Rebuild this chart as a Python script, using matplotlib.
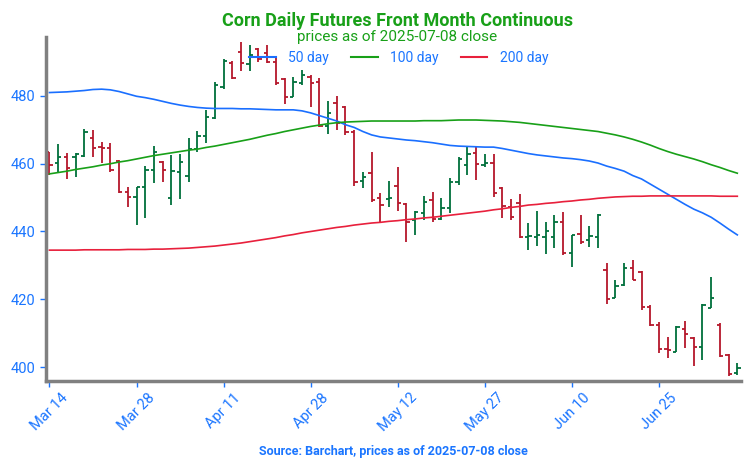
import pandas as pd
import matplotlib
matplotlib.use("Agg")
import matplotlib.pyplot as plt
from matplotlib.lines import Line2D

plt.rcParams['font.family'] = ['Roboto', 'DejaVu Sans']

# trading days shown on the chart
holidays = ['2025-04-18', '2025-05-26', '2025-06-19', '2025-07-04']
bday = pd.offsets.CustomBusinessDay(holidays=holidays)
dates = pd.date_range('2025-03-14', '2025-07-09', freq=bday)

opens = [463.4, 460.2, 462.0, 462.0, 462.3, 467.5, 465.0, 464.6, 460.9, 451.8,
         450.1, 453.2, 458.0, 460.5, 450.0, 457.6, 456.4, 464.4, 468.2, 473.5,
         482.5, 489.6, 493.0, 489.4, 493.9, 492.7, 490.1, 484.9, 479.8, 483.8,
         485.5, 484.1, 471.1, 477.9, 476.7, 469.5, 454.8, 457.3, 450.0, 449.5,
         453.4, 448.1, 443.4, 445.4, 449.3, 443.6, 446.8, 454.7, 459.6, 463.1,
         459.6, 460.1, 452.8, 447.3, 448.5, 438.5, 438.5, 438.5, 438.3, 442.9,
         433.6, 439.3, 437.5, 438.5, 428.6, 420.5, 424.2, 429.1, 428.1, 417.8,
         412.4, 405.2, 404.5, 411.1, 408.5, 405.8, 417.5, 412.4, 403.5, 398.1]
highs = [463.6, 465.8, 463.1, 463.1, 470.3, 470.0, 466.3, 466.0, 461.1, 453.0,
         453.2, 459.3, 465.1, 460.8, 462.6, 462.9, 467.7, 469.8, 475.9, 484.1,
         490.9, 490.3, 496.0, 495.1, 494.1, 495.1, 491.8, 485.3, 485.5, 487.7,
         486.1, 485.3, 478.6, 480.0, 477.1, 469.9, 457.6, 463.6, 451.5, 455.0,
         458.9, 448.3, 446.1, 450.5, 451.8, 449.8, 455.7, 462.1, 464.9, 464.9,
         462.9, 462.9, 453.2, 449.7, 451.2, 442.6, 446.1, 442.9, 444.9, 445.8,
         439.0, 444.9, 441.6, 445.2, 430.6, 425.7, 430.8, 431.6, 428.4, 418.3,
         413.4, 408.8, 412.1, 413.7, 408.8, 418.6, 426.5, 413.1, 403.8, 401.1]
lows = [456.7, 457.2, 455.4, 456.2, 462.1, 462.1, 460.1, 457.7, 451.3, 447.3,
        441.9, 443.9, 454.3, 454.7, 447.8, 449.6, 454.7, 463.5, 466.0, 473.3,
        482.1, 484.9, 487.3, 487.4, 489.9, 489.7, 483.2, 477.6, 479.6, 483.3,
        476.7, 470.8, 468.9, 469.9, 468.6, 453.5, 452.8, 448.8, 442.6, 447.1,
        446.1, 437.0, 439.0, 443.4, 442.9, 443.4, 445.4, 453.7, 456.7, 455.2,
        459.0, 450.3, 443.9, 443.5, 438.1, 434.5, 435.7, 433.4, 435.0, 433.1,
        429.4, 436.3, 435.3, 435.0, 418.7, 420.3, 423.9, 425.7, 416.8, 412.1,
        404.2, 402.6, 404.5, 405.5, 400.3, 402.1, 417.3, 402.9, 397.3, 397.6]
closes = [459.6, 462.0, 458.7, 462.9, 469.5, 464.6, 464.7, 458.2, 451.8, 450.1,
          453.2, 458.2, 463.5, 458.2, 457.9, 460.5, 464.4, 468.2, 473.8, 483.2,
          490.2, 485.2, 489.7, 492.1, 490.9, 490.1, 483.7, 479.8, 484.2, 486.3,
          483.8, 471.1, 475.1, 471.9, 469.5, 454.5, 456.2, 449.4, 447.8, 450.0,
          448.5, 442.9, 445.8, 448.8, 443.6, 446.8, 454.7, 461.3, 462.9, 459.9,
          460.3, 451.5, 447.5, 444.2, 438.5, 438.6, 439.0, 440.0, 442.9, 433.6,
          439.0, 437.0, 438.7, 444.9, 420.0, 424.0, 429.1, 425.7, 417.6, 412.4,
          405.2, 405.0, 411.9, 409.7, 406.0, 418.3, 420.3, 403.2, 397.9, 399.6]

ma50 = [481.0, 481.1, 481.2, 481.4, 481.6, 481.9, 482.0, 481.8, 481.3, 480.6,
        479.9, 479.5, 479.0, 478.4, 477.8, 477.3, 476.9, 476.6, 476.4, 476.3,
        476.3, 476.3, 476.2, 476.2, 476.1, 476.0, 475.9, 475.9, 475.9, 475.6,
        475.0, 474.2, 473.4, 472.6, 471.5, 470.7, 469.5, 468.5, 467.9, 467.6,
        467.3, 467.0, 466.8, 466.5, 466.2, 465.8, 465.4, 465.2, 465.1, 465.0,
        464.9, 464.9, 464.5, 464.0, 463.5, 463.0, 462.6, 462.3, 462.0, 461.7,
        461.5, 461.2, 460.8, 460.2, 459.3, 458.6, 457.8, 456.5, 455.5, 454.0,
        452.5, 451.0, 449.5, 448.0, 446.6, 445.5, 444.2, 442.5, 440.7, 439.0]
ma100 = [457.0, 457.4, 457.8, 458.3, 458.7, 459.1, 459.6, 460.0, 460.5, 460.9,
         461.4, 461.9, 462.4, 462.8, 463.2, 463.6, 464.0, 464.3, 464.8, 465.2,
         465.7, 466.2, 466.7, 467.2, 467.8, 468.4, 468.9, 469.5, 470.0, 470.5,
         471.0, 471.4, 471.8, 472.1, 472.3, 472.4, 472.5, 472.6, 472.6, 472.6,
         472.6, 472.6, 472.6, 472.7, 472.7, 472.7, 472.8, 472.9, 472.9, 472.9,
         472.8, 472.7, 472.6, 472.4, 472.2, 471.9, 471.6, 471.3, 471.0, 470.7,
         470.4, 470.1, 469.8, 469.5, 469.0, 468.5, 467.9, 467.2, 466.4, 465.5,
         464.5, 463.6, 462.8, 462.1, 461.4, 460.6, 459.7, 458.9, 458.0, 457.2]
ma200 = [434.5, 434.5, 434.5, 434.5, 434.6, 434.6, 434.6, 434.6, 434.6, 434.7,
         434.7, 434.7, 434.8, 434.8, 434.9, 435.0, 435.1, 435.3, 435.5, 435.7,
         436.0, 436.3, 436.6, 437.0, 437.4, 437.8, 438.2, 438.7, 439.1, 439.6,
         440.0, 440.4, 440.8, 441.2, 441.5, 441.9, 442.2, 442.5, 442.7, 443.0,
         443.2, 443.5, 443.7, 444.0, 444.2, 444.5, 444.8, 445.1, 445.4, 445.7,
         446.0, 446.4, 446.7, 447.1, 447.4, 447.8, 448.0, 448.3, 448.5, 448.8,
         449.0, 449.3, 449.5, 449.8, 450.0, 450.2, 450.3, 450.4, 450.4, 450.5,
         450.5, 450.5, 450.5, 450.5, 450.5, 450.5, 450.5, 450.4, 450.4, 450.4]

yticks = [400, 420, 440, 460, 480]

df = pd.DataFrame({'open': opens, 'high': highs, 'low': lows, 'close': closes,
                   'ma50': ma50, 'ma100': ma100, 'ma200': ma200}, index=dates)
df['x'] = range(len(df))

up_col = '#00703c'
dn_col = '#b5172b'
txt_blue = '#1a75ff'

fig = plt.figure(figsize=(7.5, 4.68), dpi=100)
ax = fig.add_axes([0.0613, 0.186, 0.927, 0.735])

# OHLC bars
tick_w = 0.38
for _, r in df.iterrows():
    c = up_col if r['close'] >= r['open'] else dn_col
    ax.vlines(r['x'], r['low'], r['high'], color=c, lw=1.3)
    ax.hlines(r['open'], r['x'] - tick_w, r['x'], color=c, lw=1.3)
    ax.hlines(r['close'], r['x'], r['x'] + tick_w, color=c, lw=1.3)

ax.plot(df['x'], df['ma50'], color='#1a6fff', lw=1.2)
ax.plot(df['x'], df['ma100'], color='#18a018', lw=1.2)
ax.plot(df['x'], df['ma200'], color='#e8203c', lw=1.2)

ax.set_xlim(-0.4, len(df) - 0.55)
ax.set_ylim(395.9, 497.4)
ax.set_yticks(yticks)

xt = list(range(0, len(df), 10))
ax.set_xticks(xt)
ax.set_xticklabels([dates[i].strftime('%b %d') for i in xt], rotation=45,
                   ha='center')

for s in ['top', 'right']:
    ax.spines[s].set_visible(False)
for s in ['left', 'bottom']:
    ax.spines[s].set_color('#808080')
    ax.spines[s].set_linewidth(2.5)

ax.tick_params(axis='both', colors=txt_blue, labelsize=10.5, length=4, width=1)
ax.tick_params(axis='x', pad=3)

fig.text(0.53, 0.955, 'Corn Daily Futures Front Month Continuous', ha='center',
         va='center', fontsize=13, fontweight='bold', color='#18a018')
fig.text(0.53, 0.922, 'prices as of 2025-07-08 close', ha='center', va='center',
         fontsize=11, color='#18a018')

handles = [Line2D([], [], color='#1a6fff', lw=1.5),
           Line2D([], [], color='#18a018', lw=1.5),
           Line2D([], [], color='#e8203c', lw=1.5)]
leg = fig.legend(handles, ['50 day', '100 day', '200 day'], ncol=3,
                 loc='center', bbox_to_anchor=(0.532, 0.877), frameon=False,
                 fontsize=10, handlelength=1.9, handletextpad=0.9,
                 columnspacing=1.6)
for t in leg.get_texts():
    t.set_color(txt_blue)

fig.text(0.525, 0.036, 'Source: Barchart, prices as of 2025-07-08 close',
         ha='center', va='center', fontsize=9, fontweight='bold', color=txt_blue)

fig.savefig('out.png', dpi=100)
